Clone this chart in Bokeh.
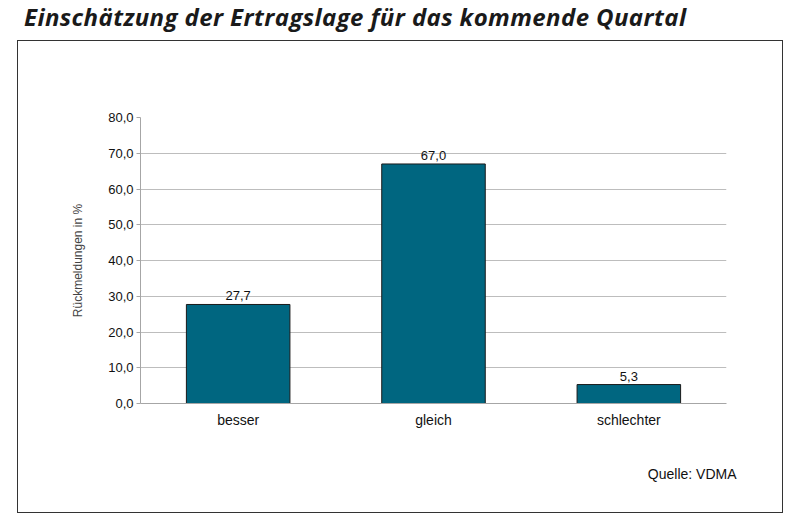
from bokeh.plotting import figure
from bokeh.layouts import column
from bokeh.core.properties import value
from bokeh.models import (ColumnDataSource, FactorRange, Range1d, FixedTicker,
                          LabelSet, Title, Div)
from bokeh.embed import file_html
from bokeh.resources import INLINE

categories = ["besser", "gleich", "schlechter"]
values = [27.7, 67.0, 5.3]
y_ticks = [0, 10, 20, 30, 40, 50, 60, 70, 80]

labels = [("%.1f" % v).replace(".", ",") for v in values]
source = ColumnDataSource({'cat': categories, 'val': values, 'lbl': labels})

head = Div(text="Einschätzung der Ertragslage für das kommende Quartal",
           width=784, height=40, margin=(0, 0, 0, 0),
           styles={"font-family": "Open Sans", "font-weight": "bold", "font-style": "italic",
                   "font-size": "24px", "letter-spacing": "0.4px",
                   "color": "#1a1a1a", "padding-left": "24px"})

p = figure(width=766, height=473, output_backend="svg", toolbar_location=None,
           x_range=FactorRange(*categories, range_padding=0), y_range=Range1d(0, 80),
           min_border_left=122, min_border_right=58, min_border_top=76, min_border_bottom=111,
           margin=(0, 0, 0, 17), styles={"border": "1.5px solid #333333"})
p.outline_line_color = None

p.vbar(x='cat', top='val', width=0.53, source=source,
       fill_color="#006680", line_color="#1a1a1a", line_width=1)

p.add_layout(LabelSet(x='cat', y='val', text='lbl', source=source, y_offset=4,
                      text_align="center", text_baseline="bottom",
                      text_font=value("Liberation Sans"), text_font_size="13px",
                      text_color="#111111"))

# y axis
p.yaxis.ticker = FixedTicker(ticks=y_ticks)
p.yaxis.major_label_overrides = {t: ("%.1f" % t).replace(".", ",") for t in y_ticks}
p.yaxis.axis_label = "Rückmeldungen in %"
p.yaxis.axis_label_text_font = "Liberation Sans"
p.yaxis.axis_label_text_font_style = "normal"
p.yaxis.axis_label_text_font_size = "12px"
p.yaxis.axis_label_standoff = 20
p.yaxis.major_label_text_font = "Liberation Sans"
p.yaxis.major_label_text_font_size = "13px"
p.yaxis.major_label_text_color = "#111111"
p.yaxis.major_label_standoff = 3
p.yaxis.axis_line_color = "#a6a6a6"
p.yaxis.major_tick_line_color = "#a6a6a6"
p.yaxis.major_tick_in = 0
p.yaxis.major_tick_out = 4
p.yaxis.minor_tick_line_color = None

# x axis
p.xaxis.axis_line_color = "#a6a6a6"
p.xaxis.major_tick_line_color = None
p.xaxis.major_tick_in = 0
p.xaxis.major_tick_out = 0
p.xaxis.major_label_text_font = "Liberation Sans"
p.xaxis.major_label_text_font_size = "14px"
p.xaxis.major_label_text_color = "#111111"
p.xaxis.major_label_standoff = 8

p.xgrid.grid_line_color = None
p.ygrid.ticker = FixedTicker(ticks=y_ticks[1:-1])
p.ygrid.grid_line_color = "#bdbdbd"

# source note
p.add_layout(Title(text="Quelle: VDMA", align="right", standoff=66, offset=-10,
                   text_font="Liberation Sans", text_font_style="normal",
                   text_font_size="14px", text_color="#111111"), "below")

layout = column(head, p)
open("out.html", "w").write(file_html(layout, INLINE))
